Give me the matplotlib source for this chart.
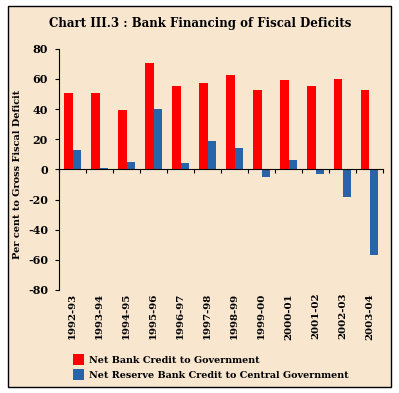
import numpy as np
import matplotlib
matplotlib.use("Agg")
import matplotlib.pyplot as plt
from matplotlib.patches import Rectangle

years = ["1992-93", "1993-94", "1994-95", "1995-96", "1996-97", "1997-98",
         "1998-99", "1999-00", "2000-01", "2001-02", "2002-03", "2003-04"]
net_bank_credit = [50.8, 50.8, 39.1, 70.4, 55.5, 57.3, 62.7, 52.9, 59.5, 55.5, 59.9, 52.9]
net_rbi_credit = [12.9, 0.9, 5.0, 39.8, 4.4, 18.8, 14.2, -4.8, 6.4, -3.3, -18.6, -57.0]

BG = "#F8E6CF"
RED = "#FF0000"
BLUE = "#2A64A8"

plt.rcParams['font.family'] = ['DejaVu Serif']
plt.rcParams['font.weight'] = 'bold'
plt.rcParams['axes.unicode_minus'] = False

fig = plt.figure(figsize=(3.99, 3.93), dpi=100, facecolor="white")
fig.patches.append(Rectangle((8 / 399, 6 / 393), 383 / 399, 381 / 393,
                             transform=fig.transFigure, facecolor=BG,
                             edgecolor="black", linewidth=1.0, zorder=-5))

ax = fig.add_axes([59 / 399, 1 - 290 / 393, 324 / 399, 241.3 / 393])
ax.set_facecolor("none")

x = np.arange(len(years))
w = 0.315
ax.bar(x - w / 2, net_bank_credit, w, color=RED, label="Net Bank Credit to Government")
ax.bar(x + w / 2, net_rbi_credit, w, color=BLUE,
       label="Net Reserve Bank Credit to Central Government")

ax.set_xlim(-0.5, len(years) - 0.5)
ax.set_ylim(-80, 80)
ax.set_yticks(range(-80, 81, 20))
ax.tick_params(axis="y", labelsize=8, length=3, width=0.8, pad=5)
ax.spines["top"].set_visible(False)
ax.spines["right"].set_visible(False)
ax.spines["bottom"].set_position(("data", 0))
ax.set_xticks(np.arange(len(years) + 1) - 0.5)
ax.set_xticklabels([])
ax.tick_params(axis="x", direction="out", length=3, width=0.8)

for i, yr in enumerate(years):
    ax.text(i, -0.012, yr, transform=ax.get_xaxis_transform(), rotation=90,
            ha="center", va="top", fontsize=7.4, fontweight="bold")

ax.set_ylabel("Per cent to Gross Fiscal Deficit", fontsize=7, fontweight="bold")
ax.yaxis.set_label_coords(-37 / 324, 0.48)

fig.text(200 / 399, 1 - 24 / 393, "Chart III.3 : Bank Financing of Fiscal Deficits",
         ha="center", va="center", fontsize=8.5, fontweight="bold")

fig.legend(loc="upper left", bbox_to_anchor=(66 / 399, 1 - 347 / 393),
           frameon=False, fontsize=6.95, handlelength=1.2, handleheight=1.4,
           handletextpad=0.5, labelspacing=0.45, borderpad=0.2)

fig.savefig("out.png", dpi=100, facecolor="white")
